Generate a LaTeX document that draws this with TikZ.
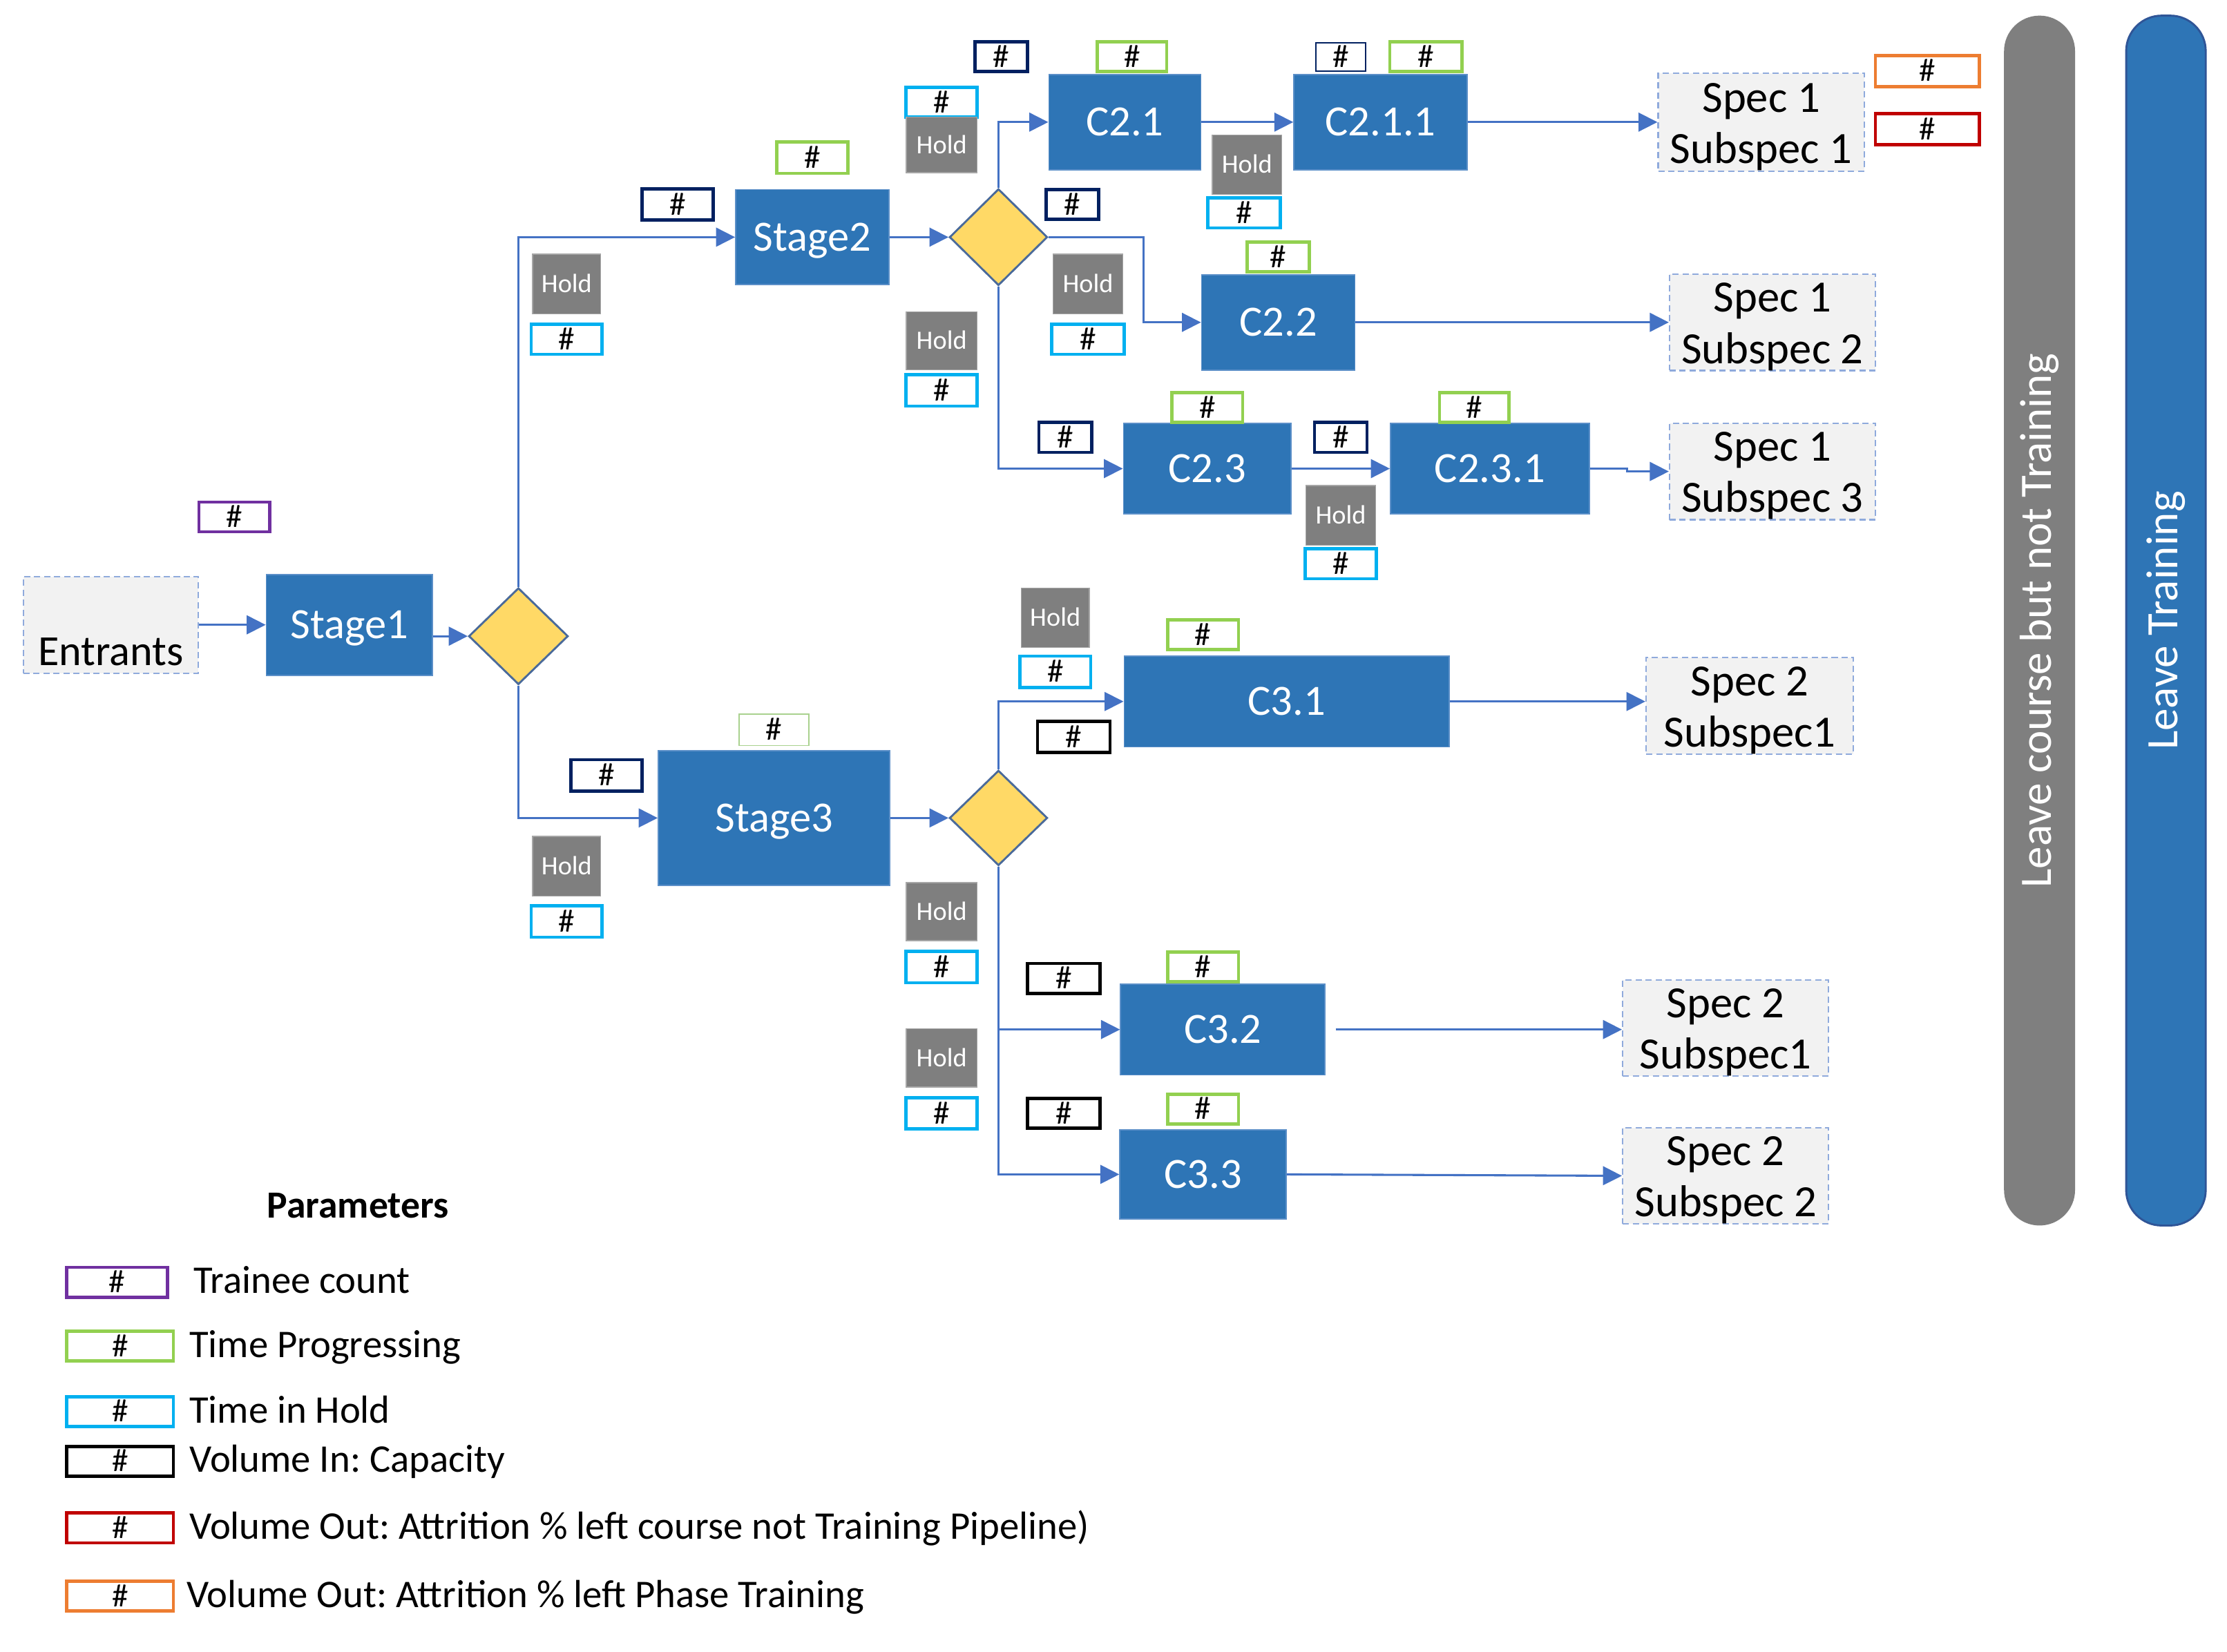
\documentclass[tikz,border=0pt]{standalone}
\usepackage{fontspec}
\setmainfont{Carlito}
\frenchspacing
\usetikzlibrary{arrows.meta,shapes.geometric,calc}
\newcommand\upx{0.02cm}
\newcommand\specstrut{\rule{0pt}{\dimexpr0.66em+3.4pt\relax}}
\definecolor{boxblue}{HTML}{2E75B6}
\definecolor{boxedge}{HTML}{5B8FC8}
\definecolor{arrowblue}{HTML}{4472C4}
\definecolor{holdgray}{HTML}{7F7F7F}
\definecolor{holdedge}{HTML}{A6A6A6}
\definecolor{specfill}{HTML}{F2F2F2}
\definecolor{specedge}{HTML}{8FAADC}
\definecolor{dyellow}{HTML}{FFD966}
\definecolor{diaedge}{HTML}{4A6A9A}
\definecolor{navy}{HTML}{002060}
\definecolor{grn}{HTML}{92D050}
\definecolor{lgrn}{HTML}{A9D18E}
\definecolor{cyn}{HTML}{00B0F0}
\definecolor{rd}{HTML}{C00000}
\definecolor{orng}{HTML}{ED7D31}
\definecolor{purp}{HTML}{7030A0}
\definecolor{baredge}{HTML}{2F5597}
\begin{document}
\begin{tikzpicture}[x=0.02cm,y=-0.02cm,
  sz/.style 2 args={minimum width=#1*\upx, minimum height=#2*\upx},
  stagebox/.style={rectangle, fill=boxblue, draw=boxedge, line width=0.5pt, text=white,
    font=\fontsize{17.3}{20.5}\selectfont, inner sep=0pt, text height=11.1pt, text depth=0pt},
  specbox/.style={rectangle, fill=specfill, draw=specedge, dash pattern=on 2.5pt off 1.5pt,
    line width=0.6pt, font=\fontsize{17.9}{20.5}\selectfont, align=center, inner sep=0pt},
  holdbox/.style={rectangle, fill=holdgray, draw=holdedge, line width=0.4pt, text=white,
    font=\fontsize{10.6}{12}\selectfont, inner sep=0pt, text height=6.8pt, text depth=0pt},
  numbox/.style={rectangle, draw=#1, line width=1.3pt, fill=white, font=\fontsize{13}{14}\selectfont,
    inner sep=0pt, text height=8.3pt, text depth=0pt},
  thinbox/.style={numbox=#1, line width=0.5pt},
  dia/.style={diamond, fill=dyellow, draw=diaedge, line width=0.8pt, inner sep=0pt},
  arr/.style={draw=arrowblue, line width=0.85pt, -{Triangle[length=7.6pt,width=7.5pt]}},
  barbox/.style={rectangle, rotate=90, rounded corners=0.5cm, text=white,
    font=\fontsize{18}{20}\selectfont, inner sep=0pt},
  legtext/.style={anchor=west, font=\fontsize{15.7}{18}\selectfont, inner sep=0pt,
    text height=10.1pt, text depth=0pt}
]
\useasboundingbox (0,0) rectangle (1568,1163);

% ---------- main nodes ----------
\node[specbox, sz={123}{68}] (ent) at (78,440) {};
\node[font=\fontsize{17.2}{20}\selectfont, inner sep=0pt, text height=11.1pt, text depth=0pt] (enttxt) at (78,459) {Entrants};
\node[stagebox, sz={117}{71}] (stage1) at (246,440) {Stage1};
\node[dia, sz={70}{68}] (d1) at (365,448) {};
\node[stagebox, sz={108}{67}] (stage2) at (572,167) {Stage2};
\node[dia, sz={69}{68}] (d2) at (703,167) {};
\node[stagebox, sz={107}{67}] (c21) at (792,86) {C2.1};
\node[stagebox, sz={122}{67}] (c211) at (972,86) {C2.1.1};
\node[specbox, sz={145}{69}] (s11) at (1240,86) {\specstrut Spec 1\\Subspec 1};
\node[stagebox, sz={108}{67}] (c22) at (900,227) {C2.2};
\node[specbox, sz={145}{67}] (s12) at (1248,227) {\specstrut Spec 1\\Subspec 2};
\node[stagebox, sz={118}{64}] (c23) at (850,330) {C2.3};
\node[stagebox, sz={140}{64}] (c231) at (1049,330) {C2.3.1};
\node[specbox, sz={145}{68}] (s13) at (1248,332) {\specstrut Spec 1\\Subspec 3};
\node[stagebox, sz={163}{95}] (stage3) at (545,576) {Stage3};
\node[dia, sz={69}{67}] (d3) at (703,576) {};
\node[stagebox, sz={229}{64}] (c31) at (906,494) {C3.1};
\node[specbox, sz={146}{67}] (s21a) at (1232,497) {\specstrut Spec 2\\Subspec1};
\node[stagebox, sz={144}{64}] (c32) at (861,725) {C3.2};
\node[specbox, sz={145}{67}] (s21b) at (1215,724) {\specstrut Spec 2\\Subspec1};
\node[stagebox, sz={117}{63}] (c33) at (847,827) {C3.3};
\node[specbox, sz={145}{67}] (s22) at (1215,828) {\specstrut Spec 2\\Subspec 2};

% ---------- side bars ----------
\node[barbox, fill=holdgray, sz={852}{50}] (bar1) at (1436,437) {Leave course but not Training};
\node[barbox, fill=boxblue, draw=baredge, line width=0.8pt, sz={852}{56}] (bar2) at (1525,437) {Leave Training};

% ---------- parameter boxes ----------
\node[numbox=purp, sz={50}{21}] (n1) at (165,364) {\#};
\node[numbox=grn, sz={50}{22}] (n2) at (572,111) {\#};
\node[numbox=navy, sz={50}{22}] (n3) at (477,144) {\#};
\node[holdbox, sz={48}{42}] (h1) at (399,200) {Hold};
\node[numbox=cyn, sz={50}{21}] (n4) at (399,239) {\#};
\node[numbox=grn, sz={49}{21}] (n5) at (797,40) {\#};
\node[numbox=navy, sz={37}{21}] (n6) at (705,40) {\#};
\node[numbox=cyn, sz={50}{21}] (n7) at (663,72) {\#};
\node[holdbox, sz={50}{39}] (h2) at (663,102) {Hold};
\node[thinbox=navy, sz={35}{20}] (n8) at (944,40) {\#};
\node[numbox=grn, sz={51}{21}] (n9) at (1004,40) {\#};
\node[holdbox, sz={49}{42}] (h3) at (878,116) {Hold};
\node[numbox=cyn, sz={51}{21}] (n10) at (876,150) {\#};
\node[numbox=orng, sz={73}{22}] (n11) at (1357,50) {\#};
\node[numbox=rd, sz={73}{22}] (n12) at (1357,91) {\#};
\node[numbox=navy, sz={37}{21}] (n13) at (755,144) {\#};
\node[holdbox, sz={49}{42}] (h4) at (766,200) {Hold};
\node[numbox=cyn, sz={51}{21}] (n14) at (766,239) {\#};
\node[holdbox, sz={50}{41}] (h5) at (663,240) {Hold};
\node[numbox=cyn, sz={50}{22}] (n15) at (663,275) {\#};
\node[numbox=grn, sz={44}{21}] (n16) at (900,181) {\#};
\node[numbox=navy, sz={37}{21}] (n17) at (750,308) {\#};
\node[numbox=grn, sz={50}{21}] (n18) at (850,287) {\#};
\node[numbox=navy, sz={37}{21}] (n19) at (944,308) {\#};
\node[holdbox, sz={49}{42}] (h6) at (944,363) {Hold};
\node[numbox=cyn, sz={50}{21}] (n20) at (944,397) {\#};
\node[numbox=grn, sz={49}{21}] (n21) at (1038,287) {\#};
\node[thinbox=lgrn, sz={49}{22}] (n22) at (545,514) {\#};
\node[numbox=navy, sz={50}{22}] (n23) at (427,546) {\#};
\node[holdbox, sz={48}{42}] (h7) at (399,610) {Hold};
\node[numbox=cyn, sz={50}{22}] (n24) at (399,649) {\#};
\node[numbox=grn, sz={50}{21}] (n25) at (847,447) {\#};
\node[holdbox, sz={48}{42}] (h8) at (743,435) {Hold};
\node[numbox=cyn, sz={50}{22}] (n26) at (743,473) {\#};
\node[numbox=black, sz={51}{22}] (n27) at (756,519) {\#};
\node[holdbox, sz={50}{41}] (h9) at (663,642) {Hold};
\node[numbox=cyn, sz={50}{22}] (n28) at (663,681) {\#};
\node[numbox=black, sz={51}{21}] (n29) at (749,689) {\#};
\node[numbox=grn, sz={50}{21}] (n30) at (847,681) {\#};
\node[holdbox, sz={50}{41}] (h10) at (663,745) {Hold};
\node[numbox=cyn, sz={50}{22}] (n31) at (663,784) {\#};
\node[numbox=black, sz={51}{21}] (n32) at (749,784) {\#};
\node[numbox=grn, sz={50}{21}] (n33) at (847,781) {\#};

% ---------- connectors ----------
\draw[arr] (ent.east) -- (stage1.west);
\draw[arr] (stage1.east |- d1.west) -- (d1.west);
\draw[arr] (d1.north) |- (stage2.west);
\draw[arr] (d1.south) |- (stage3.west);
\draw[arr] (stage2.east) -- (d2.west);
\draw[arr] (d2.north) |- (c21.west);
\draw[arr] (d2.east) -- ++(67,0) |- (c22.west);
\draw[arr] (d2.south) |- (c23.west);
\draw[arr] (c21.east) -- (c211.west);
\draw[arr] (c211.east) -- (s11.west);
\draw[arr] (c22.east) -- (s12.west);
\draw[arr] (c23.east) -- (c231.west);
\draw[arr] (c231.east) -- ++(26,0) |- (s13.west);
\draw[arr] (stage3.east) -- (d3.west);
\draw[arr] (d3.north) |- (c31.west);
\draw[arr] (d3.south) |- (c32.west);
\draw[arr] (d3.south) |- (c33.west);
\draw[arr] (c31.east) -- (c31.east -| s21a.west);
\draw[arr] ([xshift=0.14cm]c32.east) -- (c32.east -| s21b.west);
\draw[arr] (c33.east) -- (s22.west);

% ---------- legend ----------
\node[font=\bfseries\fontsize{15.4}{18}\selectfont, inner sep=0pt, text height=9.9pt, text depth=0pt] (ptitle) at (252,849) {Parameters};
\node[numbox=purp, sz={71}{21}] (lp) at (82.5,903) {\#};
\node[legtext] (tp) at (136,902) {Trainee count};
\node[numbox=grn, sz={75}{21}] (lg) at (84.5,948) {\#};
\node[legtext] (tg) at (133,947) {Time Progressing};
\node[numbox=cyn, sz={75}{21}] (lc) at (84.5,994) {\#};
\node[legtext] (tc) at (133,993) {Time in Hold};
\node[numbox=black, sz={75}{21}] (lk) at (84.5,1029) {\#};
\node[legtext] (tk) at (133,1028) {Volume In: Capacity};
\node[numbox=rd, sz={75}{21}] (lr) at (84.5,1076) {\#};
\node[legtext] (tr) at (133,1075) {Volume Out: Attrition \% left course not Training Pipeline)};
\node[numbox=orng, sz={75}{21}] (lo) at (84.5,1124) {\#};
\node[legtext] (to) at (131,1123) {Volume Out: Attrition \% left Phase Training};
\end{tikzpicture}
\end{document}
